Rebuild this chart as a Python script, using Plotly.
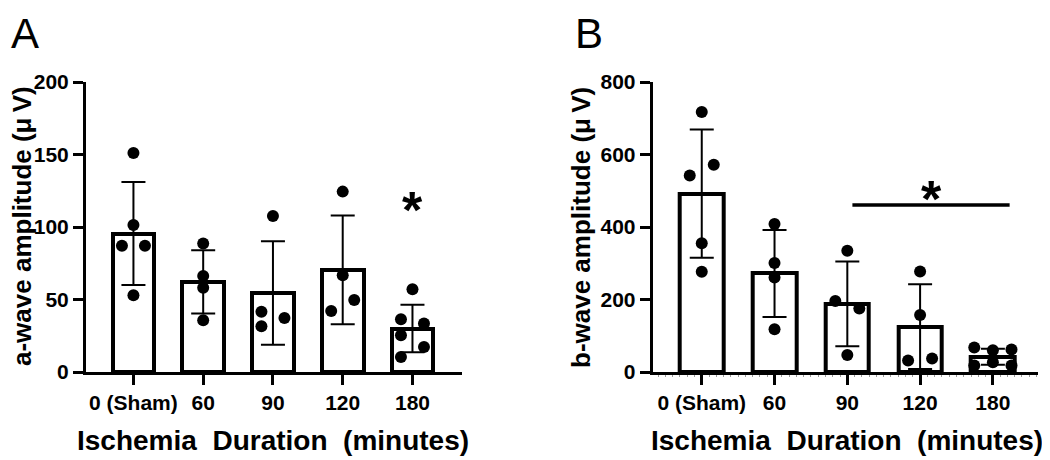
import plotly.graph_objects as go

# ---------------- data ----------------
categories = ["0 (Sham)", "60", "90", "120", "180"]

a_means = [95.5, 62.2, 54.5, 70.5, 30.0]
a_sd = [35.5, 21.8, 35.7, 37.5, 16.3]
a_points = [
    [151.0, 101.4, 87.1, 87.1, 53.0],
    [88.7, 66.2, 58.1, 35.7],
    [107.6, 41.5, 31.6, 37.3],
    [124.4, 66.8, 42.0, 49.6],
    [57.0, 36.4, 33.4, 25.4, 17.3, 10.4],
]

b_means = [492, 272, 188, 125, 42]
b_sd = [177, 120, 117, 117, 22]
b_points = [
    [717, 572, 542, 355, 276.5],
    [408, 301, 261, 118],
    [334.5, 196, 175, 47],
    [277.5, 157, 32, 37],
    [67.5, 60, 62, 18, 27, 18],
]

# significance marks
a_star_value = 117.5
b_sig_span = [2.07, 4.23]
b_sig_value = 461
b_star_value = 505

# ---------------- styling / positions ----------------
a_jitter = [
    [0, 0, -1, 1, 0],
    [0, 0, 0, 0],
    [0, -1, -1, 1],
    [0, 0, -1, 1],
    [0, -1, 1, -1, 1, -1],
]
b_jitter = [
    [0, 1, -1, 0, 0],
    [0, 0, 0, 0],
    [0, -1, 1, 0],
    [0, 0, -1, 1],
    [-1.55, 0, 1.55, -1.55, 0, 1.55],
]
JIT = 0.165
FONT = "Liberation Sans, Arial, sans-serif"
W, H, OFF = 1050, 460, 8


def px(x):
    return (x - OFF) / W


def py(y):
    return 1 - (y - OFF) / H


fig = go.Figure()


def add_panel(means, sd, points, jitter, xa, ya):
    idx = list(range(len(categories)))
    fig.add_trace(go.Bar(
        x=idx, y=means, width=0.6,
        marker=dict(color="white", line=dict(color="black", width=4)),
        xaxis=xa, yaxis=ya, showlegend=False,
    ))
    fig.add_trace(go.Scatter(
        x=idx, y=means, mode="markers",
        marker=dict(size=1, color="rgba(0,0,0,0)"),
        error_y=dict(type="data", array=sd, visible=True, color="black",
                     thickness=2, width=12),
        xaxis=xa, yaxis=ya, showlegend=False, cliponaxis=False,
    ))
    xs, ys = [], []
    for i, (pts, jit) in enumerate(zip(points, jitter)):
        for v, j in zip(pts, jit):
            xs.append(i + j * JIT)
            ys.append(v)
    fig.add_trace(go.Scatter(
        x=xs, y=ys, mode="markers",
        marker=dict(size=12, color="black"),
        xaxis=xa, yaxis=ya, showlegend=False, cliponaxis=False,
    ))


add_panel(a_means, a_sd, a_points, a_jitter, "x", "y")
add_panel(b_means, b_sd, b_points, b_jitter, "x2", "y2")

axis_common = dict(
    showline=True, linewidth=3, linecolor="black", showgrid=False,
    zeroline=False, ticks="outside", ticklen=10, tickwidth=3,
    tickcolor="black", automargin=False,
    tickfont=dict(family=FONT, size=21, color="black", weight="bold"),
)

ydom = [py(372), py(82)]
fig.update_layout(
    width=W, height=H,
    margin=dict(l=0, r=0, t=0, b=0, autoexpand=False),
    paper_bgcolor="white", plot_bgcolor="white",
    bargap=0,
    xaxis=dict(domain=[px(86), px(462)], range=[-0.68, 4.71],
               tickvals=list(range(5)), ticktext=categories,
               anchor="y", **axis_common),
    yaxis=dict(domain=ydom, range=[0, 200],
               tickvals=[0, 50, 100, 150, 200], anchor="x", **axis_common),
    xaxis2=dict(domain=[px(652.7), px(1038)], range=[-0.674, 4.62],
                tickvals=list(range(5)), ticktext=categories,
                anchor="y2",
                minor=dict(tickmode="linear", tick0=0, dtick=0.1,
                           ticks="outside", ticklen=2, tickwidth=1,
                           tickcolor="#999999", showgrid=False),
                **axis_common),
    yaxis2=dict(domain=ydom, range=[0, 800],
                tickvals=[0, 200, 400, 600, 800], anchor="x2", **axis_common),
)

title_font = dict(family=FONT, size=26, color="black", weight="bold")
xtitle_font = dict(family=FONT, size=28, color="black", weight="bold")
xtitle = "Ischemia\u00a0\u00a0Duration\u00a0\u00a0(minutes)"

annotations = [
    dict(text="A", xref="paper", yref="paper", x=px(25), y=1,
         xanchor="center", yanchor="top", showarrow=False,
         font=dict(family=FONT, size=42, color="black")),
    dict(text="B", xref="paper", yref="paper", x=px(589), y=1,
         xanchor="center", yanchor="top", showarrow=False,
         font=dict(family=FONT, size=42, color="black")),
    dict(text="a-wave amplitude (\u03bc\u2009V)", xref="paper", yref="paper",
         x=px(22), y=py(226), textangle=-90, showarrow=False,
         xanchor="center", yanchor="middle", font=title_font),
    dict(text="b-wave amplitude (\u03bc\u2009V)", xref="paper", yref="paper",
         x=px(581), y=py(228), textangle=-90, showarrow=False,
         xanchor="center", yanchor="middle", font=title_font),
    dict(text=xtitle, xref="x", yref="paper", x=2, y=py(440),
         showarrow=False, xanchor="center", yanchor="middle",
         font=xtitle_font),
    dict(text=xtitle, xref="x2", yref="paper", x=2, y=py(440),
         showarrow=False, xanchor="center", yanchor="middle",
         font=xtitle_font),
    dict(text="*", xref="x", yref="y", x=4, y=a_star_value, showarrow=False,
         xanchor="center", yanchor="middle", yshift=-8,
         font=dict(family=FONT, size=52, color="black", weight="bold")),
    dict(text="*", xref="x2", yref="y2",
         x=(b_sig_span[0] + b_sig_span[1]) / 2, y=b_star_value,
         showarrow=False, xanchor="center", yanchor="middle", yshift=-10,
         font=dict(family=FONT, size=52, color="black", weight="bold")),
]
fig.update_layout(annotations=annotations)

fig.add_shape(type="line", xref="x2", yref="y2",
              x0=b_sig_span[0], x1=b_sig_span[1], y0=b_sig_value,
              y1=b_sig_value, line=dict(color="black", width=3.5))

fig.write_html("out.html")
